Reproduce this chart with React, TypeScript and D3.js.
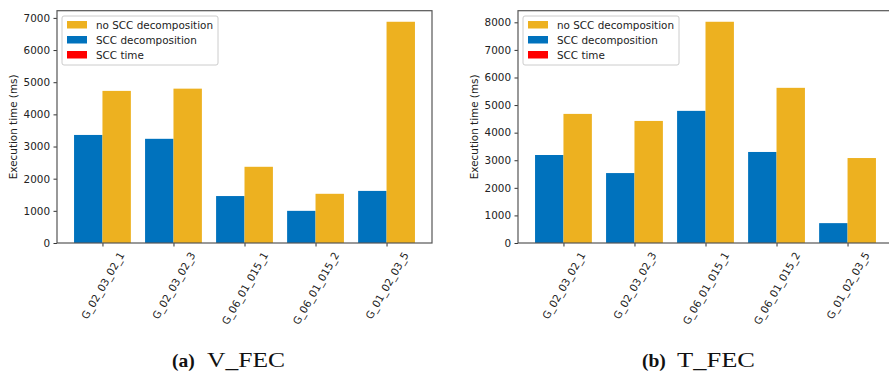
import React, { useEffect, useRef } from "react";
import { select, scaleLinear, axisLeft, axisBottom, max, range } from "d3";

// benchmark graphs on the x axis
const categories = ["G_02_03_02_1", "G_02_03_02_3", "G_06_01_015_1", "G_06_01_015_2", "G_01_02_03_5"];

// (a) V_FEC, execution time in ms
const vfecNoScc = [4730, 4800, 2370, 1530, 6880];
const vfecScc = [3360, 3240, 1460, 1000, 1620];

// (b) T_FEC, execution time in ms
const tfecNoScc = [4680, 4425, 8020, 5625, 3080];
const tfecScc = [3190, 2535, 4790, 3300, 720];

const legendLabels = ["no SCC decomposition", "SCC decomposition", "SCC time"];
const BLUE = "#0072BD";
const ORANGE = "#EDB120";
const RED = "#FF0000";
const FONT = "DejaVu Sans, sans-serif";
const FS = 10.4;

function drawPanel(svg, p) {
    const g = svg.append("g");
    const x = scaleLinear().domain([-0.64, categories.length - 1 + 0.64]).range([p.left, p.left + p.width]);
    const yMax = max([...p.noScc, ...p.scc]) * 1.05;
    const y = scaleLinear().domain([0, yMax]).range([p.bottom, p.top]);
    const idx = categories.map((_, i) => i);

    // bars: SCC decomposition left of the tick, no SCC right of it
    g.selectAll(".scc")
        .data(idx)
        .join("rect")
            .attr("x", i => x(i - 0.4))
            .attr("width", i => x(i) - x(i - 0.4))
            .attr("y", i => y(p.scc[i]))
            .attr("height", i => y(0) - y(p.scc[i]))
            .attr("fill", BLUE);
    g.selectAll(".noscc")
        .data(idx)
        .join("rect")
            .attr("x", i => x(i))
            .attr("width", i => x(i + 0.4) - x(i))
            .attr("y", i => y(p.noScc[i]))
            .attr("height", i => y(0) - y(p.noScc[i]))
            .attr("fill", ORANGE);

    // y axis
    const yAxis = g.append("g")
        .attr("transform", `translate(${p.left},0)`)
        .call(axisLeft(y).tickValues(range(0, yMax, 1000)).tickSize(3.5).tickPadding(3.5).tickFormat(d => String(d)));
    yAxis.select(".domain").remove();
    yAxis.selectAll("line").attr("stroke", "#333");
    yAxis.selectAll("text").attr("font-size", FS).attr("font-family", FONT).attr("fill", "#222");

    // x axis, labels rotated 60deg with their box centred under the tick
    const xAxis = g.append("g")
        .attr("transform", `translate(0,${p.bottom})`)
        .call(axisBottom(x).tickValues(idx).tickSize(3.5).tickFormat(i => categories[i]));
    xAxis.select(".domain").remove();
    xAxis.selectAll("line").attr("stroke", "#333");
    xAxis.selectAll("text")
        .attr("font-size", FS)
        .attr("font-family", FONT)
        .attr("fill", "#222")
        .attr("text-anchor", "middle")
        .attr("y", 0)
        .attr("dy", "0.35em")
        .attr("transform", function () {
            const L = this.getComputedTextLength();
            const h = FS * 1.164;
            const H = L * Math.sin(Math.PI / 3) + h * Math.cos(Math.PI / 3);
            return `translate(0,${7 + H / 2}) rotate(-60)`;
        });

    // spines
    g.append("rect")
        .attr("x", p.left)
        .attr("y", p.top)
        .attr("width", p.width)
        .attr("height", p.bottom - p.top)
        .attr("fill", "none")
        .attr("stroke", "#555")
        .attr("stroke-width", 1.2);

    // y label
    g.append("text")
        .attr("transform", `translate(${p.ylabelX},${(p.top + p.bottom) / 2}) rotate(-90)`)
        .attr("text-anchor", "middle")
        .attr("dominant-baseline", "central")
        .attr("font-size", FS)
        .attr("font-family", FONT)
        .attr("fill", "#222")
        .text("Execution time (ms)");

    // legend
    const lg = g.append("g").attr("transform", `translate(${p.legendX},16)`);
    lg.append("rect")
        .attr("width", 156)
        .attr("height", 49)
        .attr("rx", 2)
        .attr("fill", "white")
        .attr("fill-opacity", 0.8)
        .attr("stroke", "#ccc");
    const colors = [ORANGE, BLUE, RED];
    legendLabels.forEach((lab, i) => {
        lg.append("rect")
            .attr("x", 5)
            .attr("y", 5 + i * 15)
            .attr("width", 20)
            .attr("height", 7.5)
            .attr("fill", colors[i]);
        lg.append("text")
            .attr("x", 34)
            .attr("y", 9 + i * 15)
            .attr("dy", "0.35em")
            .attr("font-size", FS)
            .attr("font-family", FONT)
            .attr("fill", "#222")
            .text(lab);
    });

    // caption
    const cap = svg.append("text")
        .attr("x", p.captionX)
        .attr("y", 367)
        .attr("font-family", "Liberation Serif, serif")
        .attr("font-size", 19.5)
        .attr("fill", "#111");
    cap.append("tspan").attr("font-weight", "bold").text(p.captionTag);
    cap.append("tspan")
        .attr("x", p.captionX + 35)
        .attr("font-size", 21.5)
        .attr("textLength", 78)
        .attr("lengthAdjust", "spacingAndGlyphs")
        .text(p.captionName);
}

export default function App() {
    const svgRef = useRef(null);

    useEffect(() => {
        const svg = select(svgRef.current);
        svg.selectAll("*").remove();
        drawPanel(svg, {
            left: 57, width: 375, top: 10.7, bottom: 243,
            noScc: vfecNoScc, scc: vfecScc,
            ylabelX: 13, legendX: 62,
            captionX: 172, captionTag: "(a)", captionName: "V_FEC",
        });
        drawPanel(svg, {
            left: 518, width: 375, top: 10.7, bottom: 243,
            noScc: tfecNoScc, scc: tfecScc,
            ylabelX: 474, legendX: 523,
            captionX: 642, captionTag: "(b)", captionName: "T_FEC",
        });
    }, []);

    return (
        <div style={{ position: "absolute", left: 0, top: 0 }}>
            <svg ref={svgRef} width={889} height={373} style={{ display: "block", background: "white" }} />
        </div>
    );
}
